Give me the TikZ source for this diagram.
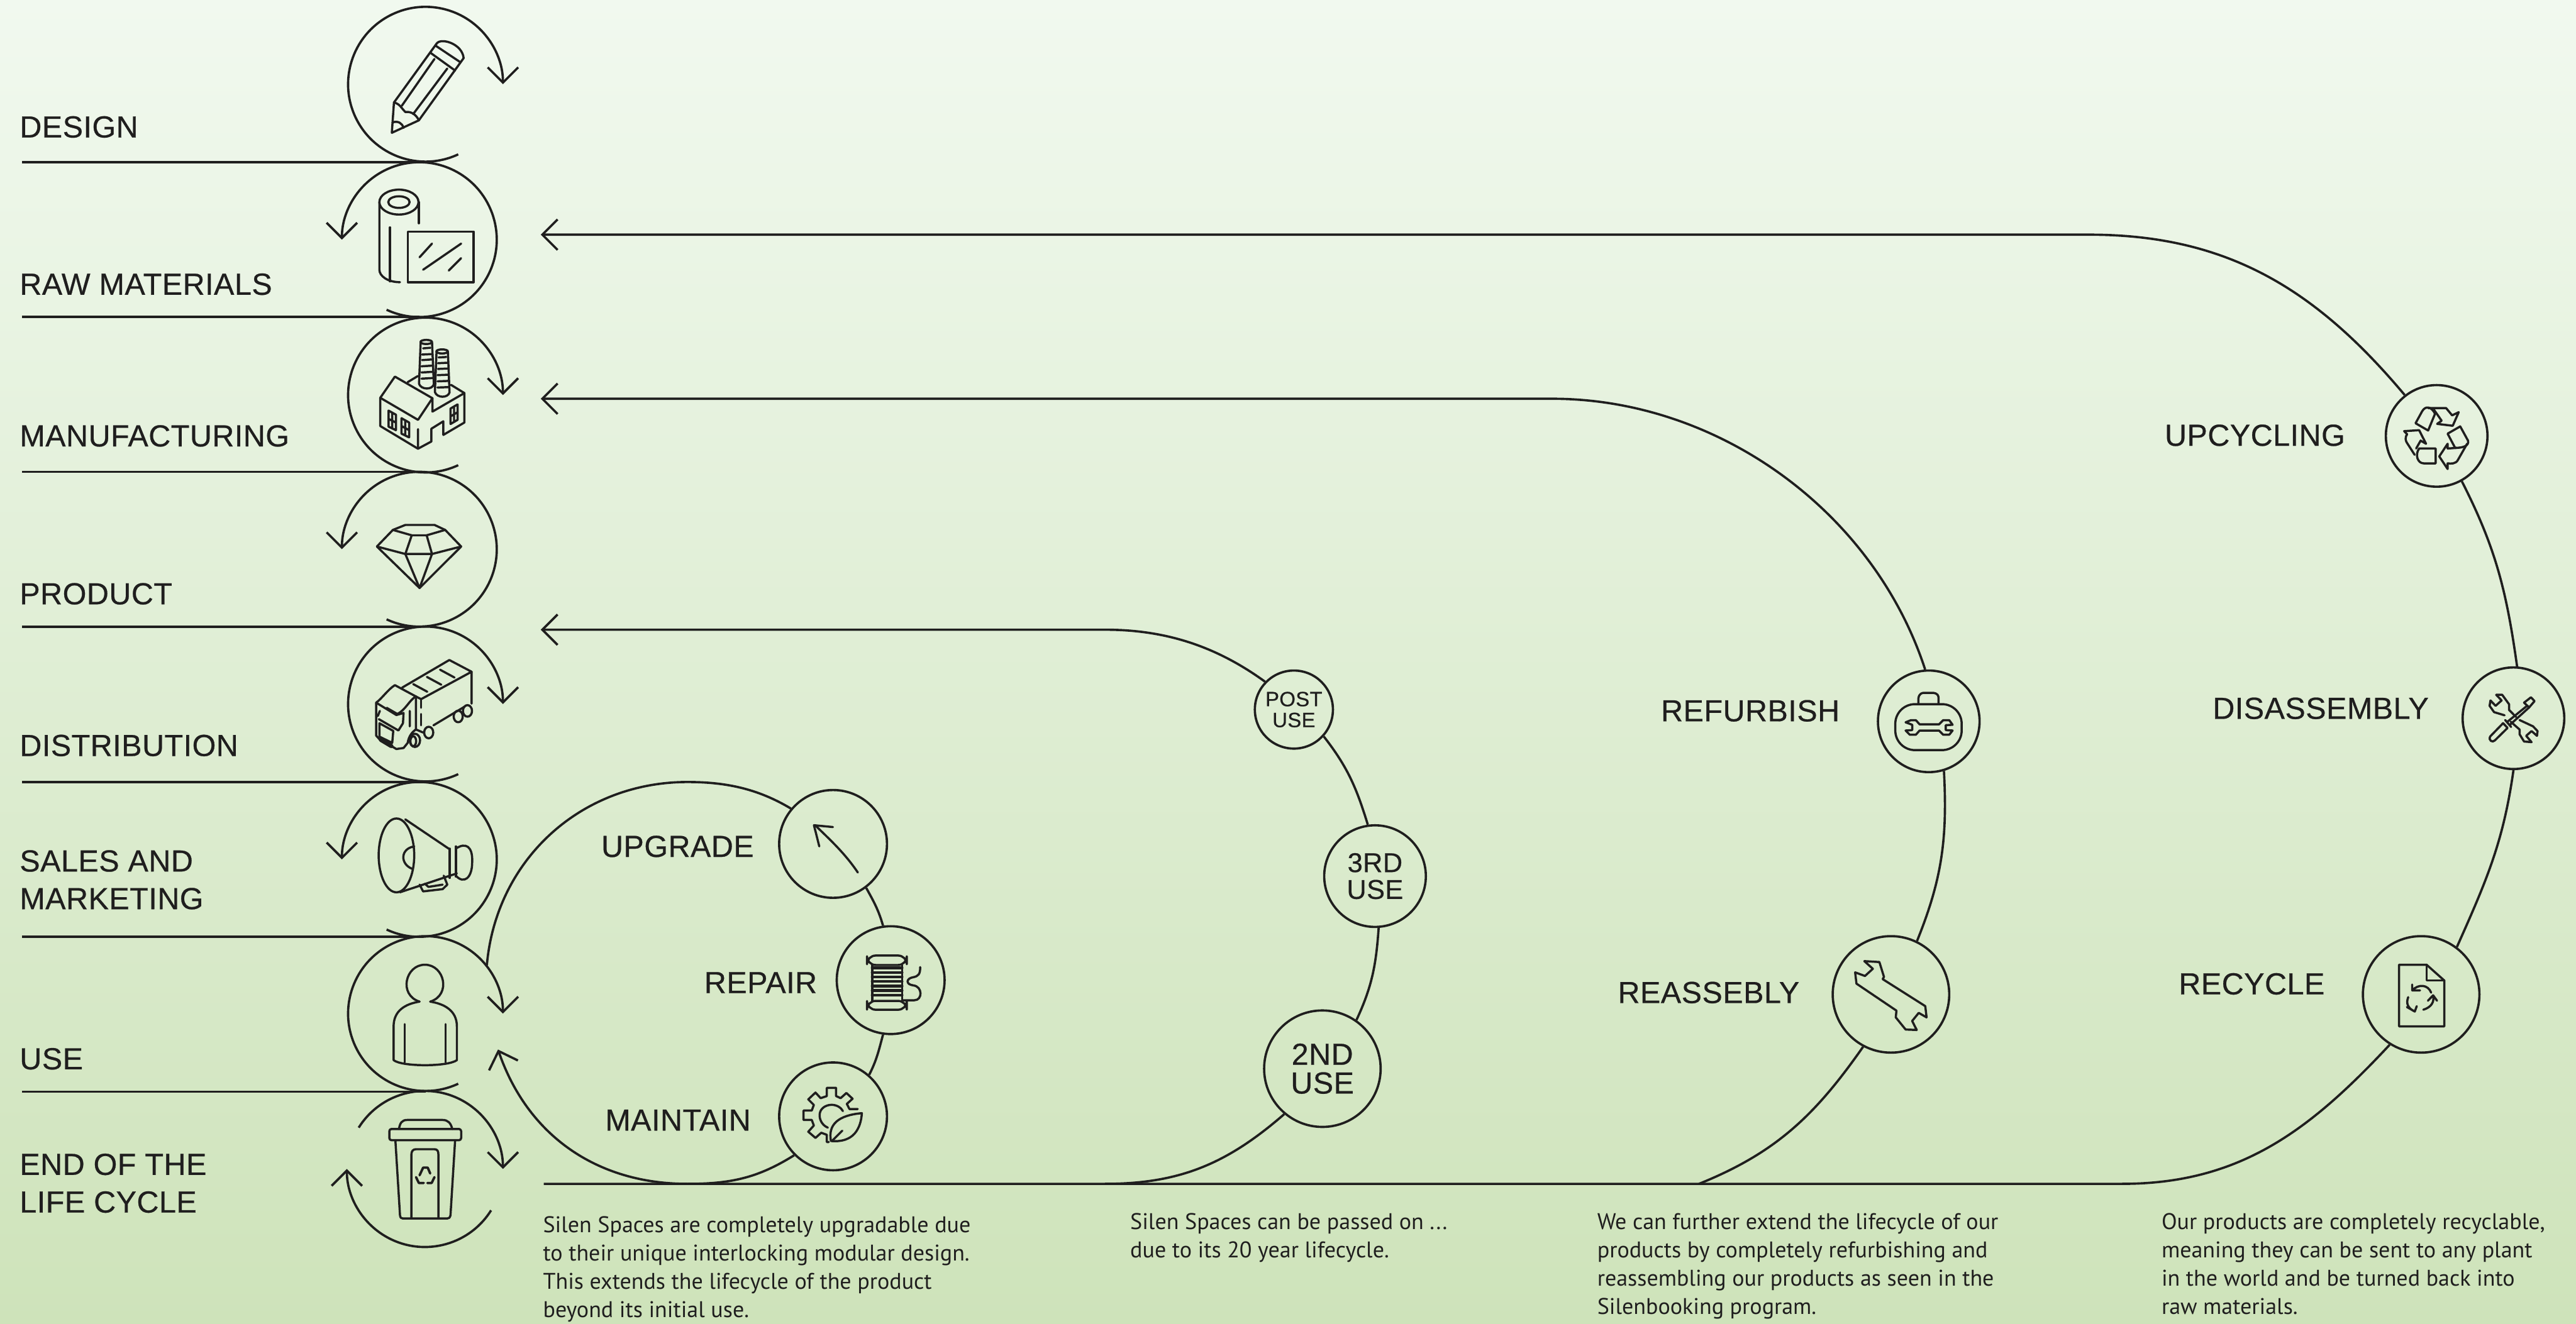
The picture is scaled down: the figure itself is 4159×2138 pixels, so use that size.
\documentclass[tikz,border=0pt]{standalone}
\usepackage{xcolor}
\usepackage{fontspec}
\setmainfont[LetterSpace=1,FakeBold=0.5]{Liberation Sans}
\newfontfamily\bodyfont{PT Sans}
\usetikzlibrary{arrows.meta}
\definecolor{inkdark}{HTML}{1F1E1E}
\definecolor{bgtop}{HTML}{F1F9EF}
\definecolor{bgbottom}{HTML}{CEE3BA}

\begin{document}
\begin{tikzpicture}[x=0.01cm,y=0.01cm,->,>={Straight Barb[length=7pt,width=14pt]},line width=1.05pt,color=inkdark,
    main node/.style={circle,draw,inner sep=0pt,minimum size=1.64cm},
    large node/.style={circle,draw,inner sep=0pt,minimum size=1.88cm},
    ring node/.style={circle,draw,inner sep=0pt,minimum size=1.74cm},
    small node/.style={circle,draw,inner sep=0pt,minimum size=1.26cm},
    step label/.style={anchor=base west,inner sep=0pt,font=\fontsize{14}{17.3}\selectfont},
    side label/.style={anchor=base east,inner sep=0pt,font=\fontsize{14}{17.3}\selectfont},
    two label/.style={anchor=west,inner sep=0pt,align=left,font=\fontsize{14}{17.3}\selectfont},
    note/.style={anchor=north west,inner sep=0pt,align=left,font=\bodyfont\fontsize{10.4}{13}\selectfont},
    icon/.style={-,line width=1pt,line join=round,line cap=round},
    upper view/.style={icon,x=0.00574cm,y=-0.006696cm},
    lower view/.style={icon,shift={(0,-1000)},x=0.00574cm,y=-0.007258cm},
    ring view/.style={icon,shift={(780,-1000)},x=0.009566cm,y=-0.007258cm},
    right view/.style={icon,shift={(2500,-1000)},x=0.01058cm,y=-0.007258cm},
    far view/.style={icon,shift={(3400,-500)},x=0.00484cm,y=-0.0051cm},
    third view/.style={icon,x=0.003333cm,y=-0.003333cm}]
    \useasboundingbox (0,0) rectangle (4159,-2138);
    \shade[-,draw=none,top color=bgtop,bottom color=bgbottom] (0,0) rectangle (4159,-2138);

    \coordinate (design) at (687,-136);
    \coordinate (rawmat) at (677,-387);
    \coordinate (manufacturing) at (687,-638);
    \coordinate (product) at (677,-887);
    \coordinate (distribution) at (687,-1137);
    \coordinate (sales) at (677,-1388);
    \coordinate (use) at (687,-1637);
    \coordinate (endlife) at (686,-1888);

    \draw[->] ([shift={(-65:125)}]design) arc (-65:-360:125);
    \draw[->] ([shift={(-115:125)}]rawmat) arc (-115:180:125);
    \draw[->] ([shift={(-65:125)}]manufacturing) arc (-65:-360:125);
    \draw[->] ([shift={(-115:125)}]product) arc (-115:180:125);
    \draw[->] ([shift={(-65:125)}]distribution) arc (-65:-360:125);
    \draw[->] ([shift={(-115:125)}]sales) arc (-115:180:125);
    \draw[->] ([shift={(-65:125)}]use) arc (-65:-360:125);
    \draw[->] ([shift={(148:126)}]endlife) arc (148:0:126);
    \draw[->] ([shift={(-32:126)}]endlife) arc (-32:-180:126);

    \coordinate (designline) at (36,-262);
    \coordinate (rawmatline) at (36,-512);
    \coordinate (manufacturingline) at (36,-762);
    \coordinate (productline) at (36,-1012);
    \coordinate (distributionline) at (36,-1263);
    \coordinate (salesline) at (36,-1513);
    \coordinate (useline) at (36,-1763);
    \draw[-] (designline) -- (designline -| design);
    \draw[-] (rawmatline) -- (rawmatline -| rawmat);
    \draw[-] (manufacturingline) -- (manufacturingline -| manufacturing);
    \draw[-] (productline) -- (productline -| product);
    \draw[-] (distributionline) -- (distributionline -| distribution);
    \draw[-] (salesline) -- (salesline -| sales);
    \draw[-] (useline) -- (useline -| use);

    \node[step label] (designlabel) at (30,-222) {DESIGN};
    \node[step label] (rawmatlabel) at (30,-476) {RAW MATERIALS};
    \node[step label] (manufacturinglabel) at (30,-721) {MANUFACTURING};
    \node[step label] (productlabel) at (30,-976) {PRODUCT};
    \node[step label] (distributionlabel) at (30,-1221) {DISTRIBUTION};
    \node[two label] (saleslabel) at (30,-1421) {SALES AND\\MARKETING};
    \node[step label] (uselabel) at (30,-1727) {USE};
    \node[two label] (endlabel) at (30,-1911) {END OF THE\\LIFE CYCLE};

    \node[ring node] (upgrade) at (1345,-1363) {};
    \node[ring node] (repair) at (1438,-1583) {};
    \node[ring node] (maintain) at (1345,-1803) {};
    \node[small node,font=\fontsize{9.5}{9.6}\selectfont,align=center] (post) at (2089,-1146) {POST\\USE};
    \node[main node,font=\fontsize{12.5}{12.3}\selectfont,align=center] (third) at (2220,-1415) {3RD\\USE};
    \node[large node,font=\fontsize{14}{13.2}\selectfont,align=center] (second) at (2135,-1726) {2ND\\USE};
    \node[main node] (refurbish) at (3114,-1165) {};
    \node[large node] (reassembly) at (3053,-1606) {};
    \node[main node] (upcycling) at (3934,-704) {};
    \node[main node] (disassembly) at (4058,-1160) {};
    \node[large node] (recycle) at (3909,-1606) {};

    \node[side label] (upgradelabel) at (1219,-1384) {UPGRADE};
    \node[side label] (repairlabel) at (1321,-1604) {REPAIR};
    \node[side label] (maintainlabel) at (1214,-1826) {MAINTAIN};
    \node[side label] (refurbishlabel) at (2972,-1165) {REFURBISH};
    \node[side label] (reassemblylabel) at (2907,-1620) {REASSEBLY};
    \node[side label] (upcyclinglabel) at (3788,-720) {UPCYCLING};
    \node[side label] (disassemblylabel) at (3923,-1161) {DISASSEMBLY};
    \node[side label] (recyclelabel) at (3755,-1606) {RECYCLE};

    \coordinate (uparc) at (3373,-379);
    \coordinate (uptip) at (873,-379);
    \coordinate (refarc) at (2506,-644);
    \coordinate (reftip) at (873,-644);
    \coordinate (postarc) at (1784,-1017);
    \coordinate (posttip) at (873,-1017);
    \coordinate (baseleft) at (878,-1912);
    \coordinate (baseright) at (3426,-1912);
    \coordinate (reasbase) at (2743,-1912);
    \coordinate (secondbase) at (1784,-1912);
    \coordinate (ringstart) at (786,-1559);
    \coordinate (ringtop) at (1110,-1263);
    \coordinate (ringbottom) at (1110,-1912);
    \coordinate (ringtip) at (804,-1695);

    \draw[->] (upcycling.128) to[out=130,in=0] (uparc) -- (uptip);
    \draw[->] (refurbish.94) to[out=108,in=0,looseness=0.92] (refarc) -- (reftip);
    \draw[->] (post.136) to[out=144,in=0,looseness=0.92] (postarc) -- (posttip);
    \draw[-] (upcycling.-61) to[out=-63,in=98] (disassembly.86);
    \draw[-] (disassembly.-90) to[out=-98,in=66] (recycle.53);
    \draw[-] (refurbish.-73) to[out=-87,in=68] (reassembly.64);
    \draw[-] (post.-42) to[out=-52,in=107] (third.98);
    \draw[-] (third.-86) to[out=-94,in=65] (second.55);
    \draw[-] (baseleft) -- (baseright) to[out=0,in=-133] (recycle.-122);
    \draw[-] (reassembly.-118) to[out=-125,in=22] (reasbase);
    \draw[-] (second.-130) to[out=-139,in=0] (secondbase);
    \draw[-] (ringstart) to[out=85,in=180] (ringtop) to[out=0,in=149,looseness=0.92] (upgrade.140);
    \draw[-] (upgrade.-53) to[out=-61,in=106] (repair.98);
    \draw[-] (repair.-98) to[out=-105,in=63] (maintain.49);
    \draw[->] (maintain.-135) to[out=-148,in=0] (ringbottom) to[out=180,in=-71] (ringtip);

    \node[note] (upgradenote) at (875,-1963) {Silen Spaces are completely upgradable due\\to their unique interlocking modular design.\\This extends the lifecycle of the product\\beyond its initial use.};
    \node[note] (passnote) at (1823,-1958) {Silen Spaces can be passed on ...\\due to its 20 year lifecycle.};
    \node[note] (refurbishnote) at (2577,-1958) {We can further extend the lifecycle of our\\products by completely refurbishing and\\reassembling our products as seen in the\\Silenbooking program.};
    \node[note] (recyclenote) at (3488,-1958) {Our products are completely recyclable,\\meaning they can be sent to any plant\\in the world and be turned back into\\raw materials.};

    \begin{scope}[upper view]
      \draw (1102,320) -- (1108,247) -- (1228,105) .. controls (1240,90) and (1300,105) .. (1304,140) -- (1178,290) -- cycle;
      \draw (1225,110) -- (1295,150) (1212,128) -- (1280,170) (1130,255) -- (1222,142) (1162,275) -- (1258,165);
      \draw (1108,247) .. controls (1125,250) and (1130,262) .. (1140,270) .. controls (1155,268) and (1170,275) .. (1178,290);
      \draw (1104,295) .. controls (1120,290) and (1132,298) .. (1135,308);
      \draw (1122,487) ellipse [x radius=55,y radius=30];
      \draw (1122,487) ellipse [x radius=30,y radius=14];
      \draw (1067,487) -- (1067,650) .. controls (1067,665) and (1090,680) .. (1125,680);
      \draw (1178,487) -- (1178,538) (1097,548) -- (1097,678);
      \draw (1147,558) rectangle (1332,680);
      \draw (1180,620) -- (1215,587) (1190,650) -- (1297,587) (1262,652) -- (1297,622);
      \draw (1060,1317) -- (1105,1277) -- (1140,1265) -- (1222,1265) -- (1252,1277) -- (1297,1317) -- (1180,1417) -- cycle;
      \draw (1105,1277) -- (1158,1290) -- (1200,1290) -- (1252,1277);
      \draw (1060,1317) -- (1140,1335) -- (1215,1335) -- (1297,1317);
      \draw (1158,1290) -- (1140,1335) -- (1180,1417) -- (1215,1335) -- (1200,1290);
    \end{scope}

    \begin{scope}[shift={(590,-530)},third view]
      \draw (72,338) -- (143,235) -- (325,340) -- (255,445) -- cycle;
      \draw (72,338) -- (72,475) -- (255,585) -- (320,550) -- (320,488) -- (378,452) -- (378,518) -- (480,458) -- (480,315) -- (325,405) -- (325,340);
      \draw (255,490) -- (255,585) (205,262) -- (255,232) (415,275) -- (480,315);
      \draw (295,67) ellipse [x radius=28,y radius=10];
      \draw (268,67) -- (260,270) .. controls (270,300) and (325,300) .. (332,272) -- (323,67);
      \draw (372,113) ellipse [x radius=28,y radius=10];
      \draw (345,113) -- (337,310) .. controls (347,340) and (400,340) .. (408,312) -- (400,113);
      \draw (280,98) -- (315,95) (275,128) -- (318,126) (275,155) -- (320,152) (272,185) -- (322,182) (272,215) -- (325,212) (272,245) -- (328,242);
      \draw (355,142) -- (392,140) (352,170) -- (395,168) (352,198) -- (398,196) (350,228) -- (400,226) (350,258) -- (402,256) (350,288) -- (405,286);
      \draw (112,400) -- (148,420) -- (148,495) -- (112,478) -- cycle (130,410) -- (130,486) (112,440) -- (148,458);
      \draw (175,437) -- (212,458) -- (212,530) -- (175,512) -- cycle (193,448) -- (193,520) (175,475) -- (212,495);
      \draw (413,390) -- (447,370) -- (447,445) -- (413,465) -- cycle (430,380) -- (430,455) (413,428) -- (447,408);
    \end{scope}

    \begin{scope}[shift={(590,-1040)},third view]
      \draw (178,212) -- (407,78) -- (515,135) -- (270,268) -- (245,255);
      \draw (515,135) -- (515,290) (480,305) -- (330,395) (245,255) -- (245,415) -- (280,430);
      \draw (270,268) -- (270,310) (270,340) -- (270,395);
      \draw (232,195) -- (300,232) (298,160) -- (368,198) (362,125) -- (432,163);
      \draw (52,285) .. controls (80,265) and (110,220) .. (143,200) -- (245,255) .. controls (215,270) and (195,320) .. (155,340) -- (103,310);
      \draw (52,285) -- (52,445) -- (75,470) (52,285) -- (150,345) (65,365) -- (160,420) -- (182,385) -- (185,335) -- (150,345);
      \draw (215,325) -- (215,400) (70,325) -- (60,350);
      \draw (68,385) -- (135,422) -- (130,480) -- (68,450) -- cycle;
      \draw[line width=2pt] (75,465) -- (125,495);
      \draw (125,495) -- (150,510) -- (185,505) -- (205,480) .. controls (210,445) and (230,425) .. (245,415);
      \draw (240,468) ellipse [x radius=25,y radius=32];
      \draw (232,472) ellipse [x radius=14,y radius=24];
      \draw (307,430) ellipse [x radius=22,y radius=28];
      \draw (450,352) ellipse [x radius=22,y radius=28];
      \draw (495,325) ellipse [x radius=22,y radius=28];
    \end{scope}

    \begin{scope}[lower view]
      \draw (1115,525) ellipse [x radius=50,y radius=82];
      \draw (1140,445) -- (1262,510) (1125,607) -- (1285,565);
      \draw (1265,510) -- (1265,575) (1282,505) -- (1282,572);
      \draw (1282,510) .. controls (1310,495) and (1330,505) .. (1328,540) .. controls (1328,575) and (1305,590) .. (1282,570);
      \draw (1165,505) .. controls (1125,510) and (1125,545) .. (1160,555);
      \draw (1180,590) -- (1190,605) -- (1245,600) -- (1258,590) -- (1248,570) (1195,588) -- (1205,595) -- (1245,590);
      \draw (1180,850) .. controls (1120,835) and (1140,768) .. (1195,768) .. controls (1250,768) and (1270,835) .. (1210,850);
      \draw (1180,850) .. controls (1140,855) and (1107,870) .. (1107,905) -- (1107,980) .. controls (1130,995) and (1260,995) .. (1285,980) -- (1285,905) .. controls (1285,870) and (1250,855) .. (1210,850);
      \draw (1138,900) -- (1138,985) (1253,900) -- (1253,985);
      \draw[rounded corners=1pt] (1095,1133) rectangle (1297,1158);
      \draw (1122,1133) .. controls (1125,1120) and (1130,1113) .. (1145,1113) -- (1245,1113) .. controls (1260,1113) and (1268,1120) .. (1272,1133);
      \draw (1112,1158) -- (1125,1325) .. controls (1126,1330) and (1128,1332) .. (1133,1332) -- (1258,1332) .. controls (1263,1332) and (1265,1330) .. (1267,1325) -- (1280,1158);
      \draw (1157,1332) -- (1157,1190) .. controls (1157,1182) and (1162,1178) .. (1170,1178) -- (1222,1178) .. controls (1230,1178) and (1233,1182) .. (1233,1190) -- (1233,1332);
      \draw[line width=1.1pt] (1180,1236) -- (1190,1219) -- (1203,1219) -- (1210,1232) (1170,1240) -- (1178,1253) -- (1192,1253) (1222,1240) -- (1214,1253) -- (1202,1253);
    \end{scope}

    \begin{scope}[ring view]
      \draw (632,563) .. controls (610,520) and (585,490) .. (560,458);
      \draw (590,462) -- (558,458) -- (567,505);
    \end{scope}

    \begin{scope}[shift={(1280,-1500)},third view]
      \draw[rounded corners=4pt] (360,130) rectangle (553,176);
      \draw[rounded corners=4pt] (360,350) rectangle (553,393);
      \draw (385,176) -- (385,350) (530,176) -- (530,350);
      \draw[line width=1.3pt] (385,190) -- (530,190) (385,212) -- (530,212) (385,234) -- (530,234) (385,256) -- (530,256) (385,278) -- (530,278) (385,300) -- (530,300) (385,322) -- (530,322);
      \draw (535,347) -- (590,347) .. controls (630,347) and (630,280) .. (585,275) .. controls (545,270) and (550,240) .. (585,235) .. controls (610,230) and (618,220) .. (618,186);
      \draw (315,875) -- (275,875) -- (262,850) -- (290,825) -- (260,797) -- (232,822) -- (210,812) -- (210,772) -- (165,772) -- (165,812) -- (135,822) -- (110,795) -- (75,828) -- (102,855) -- (92,882) -- (52,882) -- (52,928) -- (92,928) -- (102,955) -- (75,985) -- (110,1015) -- (138,990) -- (165,1000) -- (165,1035) -- (175,1035);
      \draw (243,885) .. controls (215,835) and (130,850) .. (130,905) .. controls (130,935) and (150,958) .. (170,965);
      \draw (185,1030) .. controls (170,950) and (220,905) .. (335,895) .. controls (330,970) and (295,1040) .. (185,1030) -- cycle;
      \draw (190,1030) -- (240,980);
    \end{scope}

    \begin{scope}[shift={(3040,-1100)},third view]
      \draw[rounded corners=9pt] (60,112) rectangle (382,335);
      \draw (172,112) -- (172,85) .. controls (175,60) and (190,57) .. (200,57) -- (245,57) .. controls (265,60) and (270,70) .. (270,85) -- (270,112);
      \draw (110,200) -- (135,190) -- (160,190) -- (178,210) -- (272,210) -- (292,190) -- (322,190) -- (338,212) -- (305,214) -- (305,238) -- (338,240) -- (322,260) -- (292,260) -- (272,240) -- (178,240) -- (160,260) -- (130,260) -- (110,240) -- (142,238) -- (142,212) -- cycle;
    \end{scope}

    \begin{scope}[right view]
      \draw (482,760) -- (505,762) -- (512,795) -- (510,800) -- (575,860) -- (577,885) -- (565,875) -- (555,893) -- (562,913) -- (545,912) -- (530,885) -- (531,870) -- (470,810) -- (468,785) -- (483,793) -- (495,777) -- cycle;
      \draw (1298,768) -- (1340,768) -- (1367,803) -- (1367,905) -- (1298,905) -- cycle;
      \draw (1340,768) -- (1340,803) -- (1367,803);
      \draw (1347,830) .. controls (1342,812) and (1328,810) .. (1318,825) (1318,812) -- (1318,825) -- (1330,825);
      \draw (1312,840) .. controls (1308,855) and (1312,865) .. (1322,872) (1310,862) -- (1322,872) -- (1325,860);
      \draw (1335,868) .. controls (1348,862) and (1352,850) .. (1350,836) (1342,848) -- (1350,836) -- (1356,848);
    \end{scope}

    \begin{scope}[far view]
      \draw (1033,360) -- (1055,322) .. controls (1065,305) and (1085,305) .. (1098,330) -- (1075,383) -- cycle;
      \draw (1075,312) -- (1135,312) -- (1155,335) -- (1177,325) -- (1157,368) -- (1105,362) -- (1120,352) -- (1095,318);
      \draw (1140,393) -- (1182,370) -- (1208,415) .. controls (1212,430) and (1195,438) .. (1165,438) -- cycle;
      \draw (1205,425) -- (1175,475) .. controls (1168,490) and (1150,488) .. (1140,487) -- (1140,505) -- (1112,465) -- (1140,425) -- (1140,440) -- (1170,438);
      \draw (1100,440) -- (1100,487) -- (1060,487) .. controls (1040,487) and (1030,460) .. (1045,440) -- cycle;
      \draw (1030,460) -- (1003,420) .. controls (995,405) and (1005,395) .. (1005,395) -- (995,385) -- (1045,382) -- (1068,425) -- (1050,415) -- (1035,440);
      \draw (1325,1310) -- (1282,1352) .. controls (1275,1365) and (1290,1372) .. (1297,1365) -- (1340,1325) -- cycle;
      \draw (1332,1300) -- (1352,1322) (1340,1305) -- (1405,1255) (1348,1315) -- (1412,1260);
      \draw (1395,1245) -- (1418,1228) -- (1430,1240) -- (1412,1260) -- cycle;
      \draw (1302,1220) -- (1322,1220) -- (1345,1250) -- (1345,1268) -- (1368,1290);
      \draw (1380,1300) -- (1425,1320) -- (1440,1335) -- (1438,1350) -- (1420,1335) -- (1402,1350) -- (1420,1370) -- (1395,1368) -- (1380,1345) -- (1380,1330) -- (1350,1305);
      \draw (1330,1285) -- (1295,1275) -- (1280,1255) -- (1283,1238) -- (1300,1255) -- (1320,1238) -- (1302,1220);
    \end{scope}
  \end{tikzpicture}
\end{document}
